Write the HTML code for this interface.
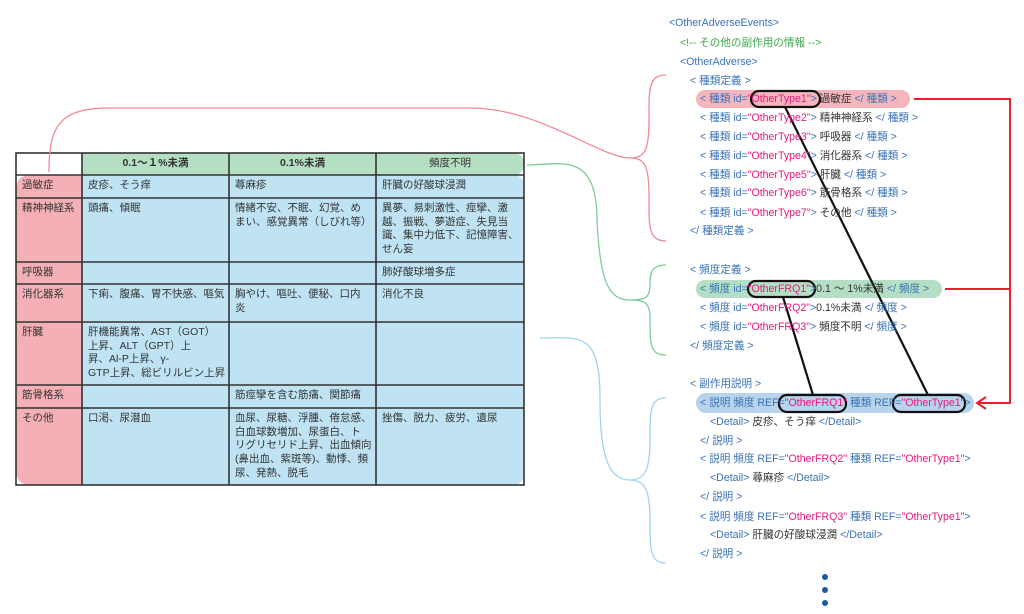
<!DOCTYPE html>
<html><head><meta charset="utf-8"><style>
body{margin:0;width:1024px;height:614px;background:#fff;overflow:hidden;position:relative;font-family:"Liberation Sans","Noto Sans CJK JP",sans-serif;}
.c{position:absolute;font-size:10.5px;line-height:13.7px;color:#333;}
.x{position:absolute;font-size:10.6px;color:#3a73b8;white-space:nowrap;line-height:12px;}
.m{color:#e5197e}.k{color:#333}.g{color:#3aaa4a}
</style></head><body>
<svg width="1024" height="614" style="position:absolute;left:0;top:0">
<rect x="696" y="90" width="214" height="18" rx="9" fill="#f4b6bc"/>
<rect x="696" y="280" width="246" height="18" rx="9" fill="#b5dfc5"/>
<rect x="696" y="393" width="278" height="20" rx="10" fill="#b8d3ec"/>
<path d="M16 175 H82 V485 H31 Q16 485 16 470 V190 Q16 175 31 175Z" fill="#f4b0b6"/>
<path d="M82 175 H512 Q524 175 524 187 V473 Q524 485 512 485 H82Z" fill="#bfe3f3"/>
<path d="M82 153 H512 Q524 153 524 164 Q524 175 512 175 H82Z" fill="#b4dfc3"/>
<g stroke="#333" stroke-width="1.6" fill="none">
<rect x="16" y="153" width="508" height="332"/>
<line x1="82" y1="153" x2="82" y2="485"/><line x1="229" y1="153" x2="229" y2="485"/><line x1="376" y1="153" x2="376" y2="485"/>
<line x1="16" y1="175" x2="524" y2="175"/><line x1="16" y1="198" x2="524" y2="198"/><line x1="16" y1="262" x2="524" y2="262"/><line x1="16" y1="284" x2="524" y2="284"/><line x1="16" y1="322" x2="524" y2="322"/><line x1="16" y1="385" x2="524" y2="385"/><line x1="16" y1="408" x2="524" y2="408"/>
</g>
<g fill="none" stroke-width="1.3">
<path d="M49 172 C49 125 60 108 110 108 H470 C540 108 600 158 630 158" stroke="#f08a94"/>
<path d="M666 75 C648 75 649 90 649 120 C649 150 645 158 630 158 C645 158 649 166 649 196 C649 226 648 241 666 241" stroke="#f08a94"/>
<path d="M527 165 C560 165 597 150 597 220 C600 285 610 300 630 300" stroke="#7fcc99"/>
<path d="M666 265 C650 265 650 275 650 285 C650 298 645 300 630 300 C645 300 650 303 650 318 C650 345 650 355 666 355" stroke="#7fcc99"/>
<path d="M540 338 C580 338 600 330 600 400 C600 460 610 480 630 480" stroke="#9fd3f0"/>
<path d="M666 398 C650 398 650 410 650 440 C650 470 645 480 630 480 C645 480 650 490 650 520 C650 550 650 563 666 563" stroke="#9fd3f0"/>
</g>
<g stroke="#e8202a" stroke-width="2" fill="none">
<path d="M914 99 H1010 V403 H978"/>
<path d="M945 289 H1010"/>
<path d="M986 397 L977 403 L986 409"/>
</g>
<g stroke="#111" stroke-width="2.2" fill="none">
<rect x="751" y="91" width="69" height="16" rx="8"/>
<rect x="748" y="281" width="67" height="16" rx="8"/>
<rect x="779" y="395" width="67" height="17" rx="8"/>
<rect x="893" y="395" width="72" height="17" rx="8"/>
<line x1="785" y1="107" x2="928" y2="395"/>
<line x1="783" y1="297" x2="813" y2="395"/>
</g>
<g fill="#1c5aa8"><circle cx="825" cy="577" r="3"/><circle cx="825" cy="590" r="3"/><circle cx="825" cy="603" r="3"/></g>
</svg>

<div class="c" style="left:82px;top:157px;width:147px;text-align:center;font-weight:bold">0.1～１%未満</div>
<div class="c" style="left:229px;top:157px;width:147px;text-align:center;font-weight:bold">0.1%未満</div>
<div class="c" style="left:376px;top:157px;width:148px;text-align:center">頻度不明</div>

<div class="c" style="left:22px;top:179px">過敏症</div>
<div class="c" style="left:22px;top:202px">精神神経系</div>
<div class="c" style="left:22px;top:266px">呼吸器</div>
<div class="c" style="left:22px;top:288px">消化器系</div>
<div class="c" style="left:22px;top:326px">肝臓</div>
<div class="c" style="left:22px;top:389px">筋骨格系</div>
<div class="c" style="left:22px;top:412px">その他</div>

<div class="c" style="left:88px;top:179px">皮疹、そう痒</div>
<div class="c" style="left:235px;top:179px">蕁麻疹</div>
<div class="c" style="left:382px;top:179px">肝臓の好酸球浸潤</div>
<div class="c" style="left:88px;top:202px">頭痛、傾眠</div>
<div class="c" style="left:235px;top:202px">情緒不安、不眠、幻覚、め<br>まい、感覚異常（しびれ等）</div>
<div class="c" style="left:382px;top:202px">異夢、易刺激性、痙攣、激<br>越、振戦、夢遊症、失見当<br>識、集中力低下、記憶障害、<br>せん妄</div>
<div class="c" style="left:382px;top:266px">肺好酸球増多症</div>
<div class="c" style="left:88px;top:288px">下痢、腹痛、胃不快感、嘔気</div>
<div class="c" style="left:235px;top:288px">胸やけ、嘔吐、便秘、口内<br>炎</div>
<div class="c" style="left:382px;top:288px">消化不良</div>
<div class="c" style="left:88px;top:326px">肝機能異常、AST（GOT）<br>上昇、ALT（GPT）上<br>昇、Al-P上昇、γ-<br>GTP上昇、総ビリルビン上昇</div>
<div class="c" style="left:235px;top:389px">筋痙攣を含む筋痛、関節痛</div>
<div class="c" style="left:88px;top:412px">口渇、尿潜血</div>
<div class="c" style="left:235px;top:412px">血尿、尿糖、浮腫、倦怠感、<br>白血球数増加、尿蛋白、ト<br>リグリセリド上昇、出血傾向<br>(鼻出血、紫斑等)、動悸、頻<br>尿、発熱、脱毛</div>
<div class="c" style="left:382px;top:412px">挫傷、脱力、疲労、遺尿</div>

<div class="x" style="left:669px;top:17px">&lt;OtherAdverseEvents&gt;</div>
<div class="x g" style="left:680px;top:37px">&lt;!-- その他の副作用の情報 --&gt;</div>
<div class="x" style="left:680px;top:56px">&lt;OtherAdverse&gt;</div>
<div class="x" style="left:690px;top:75px">&lt; 種類定義 &gt;</div>
<div class="x" style="left:700px;top:93px">&lt; 種類 id=<span class="m">"OtherType1"</span>&gt; <span class="k">過敏症</span> &lt;/ 種類 &gt;</div>
<div class="x" style="left:700px;top:112px">&lt; 種類 id=<span class="m">"OtherType2"</span>&gt; <span class="k">精神神経系</span> &lt;/ 種類 &gt;</div>
<div class="x" style="left:700px;top:131px">&lt; 種類 id=<span class="m">"OtherType3"</span>&gt; <span class="k">呼吸器</span> &lt;/ 種類 &gt;</div>
<div class="x" style="left:700px;top:150px">&lt; 種類 id=<span class="m">"OtherType4"</span>&gt; <span class="k">消化器系</span> &lt;/ 種類 &gt;</div>
<div class="x" style="left:700px;top:169px">&lt; 種類 id=<span class="m">"OtherType5"</span>&gt; <span class="k">肝臓</span> &lt;/ 種類 &gt;</div>
<div class="x" style="left:700px;top:187px">&lt; 種類 id=<span class="m">"OtherType6"</span>&gt; <span class="k">筋骨格系</span> &lt;/ 種類 &gt;</div>
<div class="x" style="left:700px;top:207px">&lt; 種類 id=<span class="m">"OtherType7"</span>&gt; <span class="k">その他</span> &lt;/ 種類 &gt;</div>
<div class="x" style="left:690px;top:225px">&lt;/ 種類定義 &gt;</div>
<div class="x" style="left:690px;top:264px">&lt; 頻度定義 &gt;</div>
<div class="x" style="left:700px;top:283px">&lt; 頻度 id=<span class="m">"OtherFRQ1"</span>&gt;<span class="k">0.1 ～ 1%未満</span> &lt;/ 頻度 &gt;</div>
<div class="x" style="left:700px;top:302px">&lt; 頻度 id=<span class="m">"OtherFRQ2"</span>&gt;<span class="k">0.1%未満</span> &lt;/ 頻度 &gt;</div>
<div class="x" style="left:700px;top:321px">&lt; 頻度 id=<span class="m">"OtherFRQ3"</span>&gt; <span class="k">頻度不明</span> &lt;/ 頻度 &gt;</div>
<div class="x" style="left:690px;top:340px">&lt;/ 頻度定義 &gt;</div>
<div class="x" style="left:690px;top:378px">&lt; 副作用説明 &gt;</div>
<div class="x" style="left:700px;top:397px">&lt; 説明 頻度 REF=<span class="m">"OtherFRQ1"</span> 種類 REF=<span class="m">"OtherType1"</span>&gt;</div>
<div class="x" style="left:710px;top:416px">&lt;Detail&gt; <span class="k">皮疹、そう痒</span> &lt;/Detail&gt;</div>
<div class="x" style="left:700px;top:435px">&lt;/ 説明 &gt;</div>
<div class="x" style="left:700px;top:453px">&lt; 説明 頻度 REF=<span class="m">"OtherFRQ2"</span> 種類 REF=<span class="m">"OtherType1"</span>&gt;</div>
<div class="x" style="left:710px;top:472px">&lt;Detail&gt; <span class="k">蕁麻疹</span> &lt;/Detail&gt;</div>
<div class="x" style="left:700px;top:491px">&lt;/ 説明 &gt;</div>
<div class="x" style="left:700px;top:511px">&lt; 説明 頻度 REF=<span class="m">"OtherFRQ3"</span> 種類 REF=<span class="m">"OtherType1"</span>&gt;</div>
<div class="x" style="left:710px;top:529px">&lt;Detail&gt; <span class="k">肝臓の好酸球浸潤</span> &lt;/Detail&gt;</div>
<div class="x" style="left:700px;top:548px">&lt;/ 説明 &gt;</div>
</body></html>
